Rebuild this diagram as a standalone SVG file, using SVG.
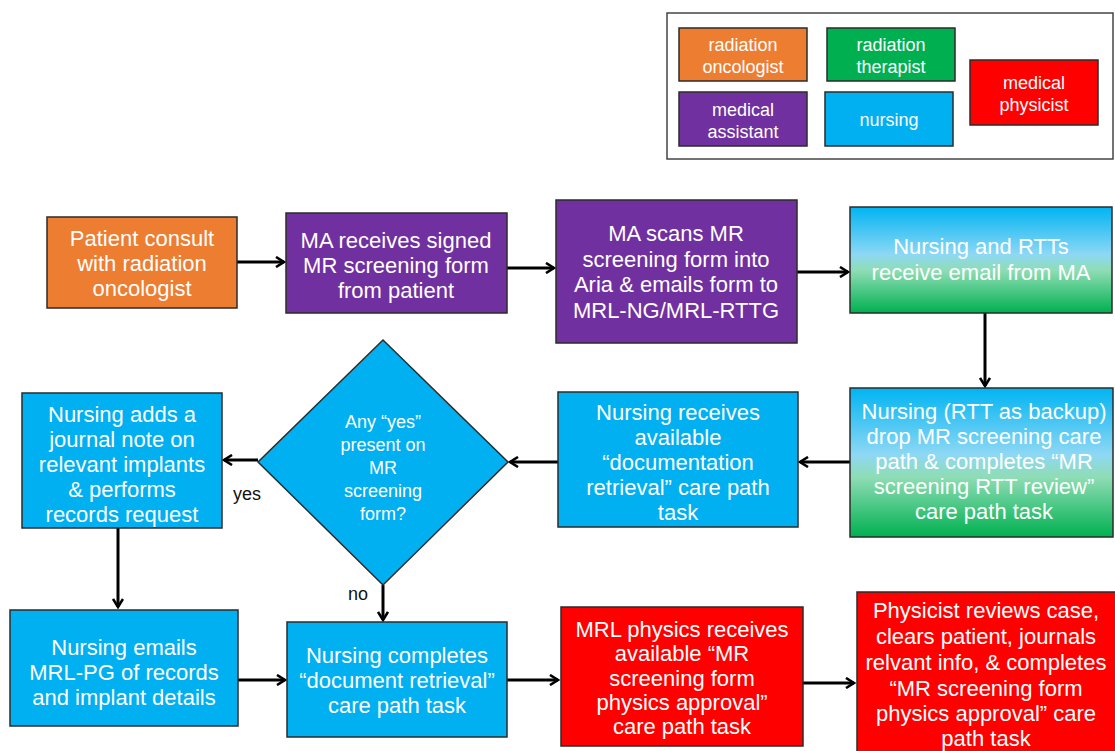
<svg xmlns="http://www.w3.org/2000/svg" width="1115" height="751" viewBox="0 0 1115 751">
<defs>
<style>
.box{stroke:#2b2b2b;stroke-width:1.5}
.t{font-family:"Liberation Sans",Arial,sans-serif;font-size:22px;fill:#fff;text-anchor:middle}
.lg{font-family:"Liberation Sans",Arial,sans-serif;font-size:18px;fill:#fff;text-anchor:middle}
.dt{font-family:"Liberation Sans",Arial,sans-serif;font-size:18px;fill:#fff;text-anchor:middle}
.lbl{font-family:"Liberation Sans",Arial,sans-serif;font-size:18px;fill:#111;text-anchor:middle}
.c{stroke:#000;stroke-width:3;fill:none}
.or{fill:#ED7D31}.pu{fill:#7030A0}.gr{fill:#00B050}.bl{fill:#00B0F0}.rd{fill:#FF0000}
</style>
<linearGradient id="bg" x1="0" y1="0" x2="0" y2="1">
<stop offset="0" stop-color="#00B4F2"/>
<stop offset="0.45" stop-color="#8ED8F4"/>
<stop offset="0.6" stop-color="#8EDDB4"/>
<stop offset="1" stop-color="#00B050"/>
</linearGradient>
<marker id="ah" viewBox="0 0 12 12" refX="10" refY="6" markerWidth="12" markerHeight="12" markerUnits="userSpaceOnUse" orient="auto">
<path d="M2,1 L10,6 L2,11" fill="none" stroke="#000" stroke-width="2.6"/>
</marker>
</defs>
<rect width="1115" height="751" fill="#fff"/>

<g id="legend">
<rect x="667" y="13" width="446" height="146" fill="#fff" stroke="#444" stroke-width="1.5"/>
<rect class="box or" x="679" y="28" width="128" height="53"/>
<text class="lg" x="743" y="51">radiation</text><text class="lg" x="743" y="73">oncologist</text>
<rect class="box gr" x="827" y="28" width="128" height="53"/>
<text class="lg" x="891" y="51">radiation</text><text class="lg" x="891" y="73">therapist</text>
<rect class="box pu" x="679" y="92" width="128" height="54"/>
<text class="lg" x="743" y="116">medical</text><text class="lg" x="743" y="138">assistant</text>
<rect class="box bl" x="825" y="92" width="128" height="54"/>
<text class="lg" x="889" y="126">nursing</text>
<rect class="box rd" x="970" y="60" width="128" height="65"/>
<text class="lg" x="1034" y="89">medical</text><text class="lg" x="1034" y="111">physicist</text>
</g>

<g id="connectors">
<line class="c" x1="237" y1="262" x2="284" y2="262" marker-end="url(#ah)"/>
<line class="c" x1="507" y1="268" x2="554" y2="268" marker-end="url(#ah)"/>
<line class="c" x1="797" y1="272" x2="848" y2="272" marker-end="url(#ah)"/>
<line class="c" x1="985" y1="313" x2="985" y2="386" marker-end="url(#ah)"/>
<line class="c" x1="850" y1="462" x2="800" y2="462" marker-end="url(#ah)"/>
<line class="c" x1="558" y1="462" x2="510" y2="462" marker-end="url(#ah)"/>
<line class="c" x1="258" y1="460" x2="224" y2="460" marker-end="url(#ah)"/>
<line class="c" x1="118" y1="528" x2="118" y2="607" marker-end="url(#ah)"/>
<line class="c" x1="383" y1="585" x2="383" y2="620" marker-end="url(#ah)"/>
<line class="c" x1="238" y1="680" x2="285" y2="680" marker-end="url(#ah)"/>
<line class="c" x1="507" y1="680" x2="558" y2="680" marker-end="url(#ah)"/>
<line class="c" x1="803" y1="683" x2="854" y2="683" marker-end="url(#ah)"/>
<text class="lbl" x="247" y="500">yes</text>
<text class="lbl" x="358" y="600">no</text>
</g>

<g id="n1">
<rect class="box or" x="47" y="217" width="190" height="91"/>
<text class="t" x="142" y="246">Patient consult</text>
<text class="t" x="142" y="271">with radiation</text>
<text class="t" x="142" y="296">oncologist</text>
</g>
<g id="n2">
<rect class="box pu" x="286" y="213" width="221" height="100"/>
<text class="t" x="396" y="248">MA receives signed</text>
<text class="t" x="396" y="273">MR screening form</text>
<text class="t" x="396" y="298">from patient</text>
</g>
<g id="n3">
<rect class="box pu" x="556" y="200" width="241" height="143"/>
<text class="t" x="676" y="241">MA scans MR</text>
<text class="t" x="676" y="267">screening form into</text>
<text class="t" x="676" y="292">Aria &amp; emails form to</text>
<text class="t" x="676" y="318">MRL-NG/MRL-RTTG</text>
</g>
<g id="n4">
<rect class="box" fill="url(#bg)" x="850" y="207" width="262" height="106"/>
<text class="t" x="981" y="254">Nursing and RTTs</text>
<text class="t" x="981" y="280">receive email from MA</text>
</g>
<g id="n5">
<rect class="box" fill="url(#bg)" x="850" y="388" width="263" height="149"/>
<text class="t" x="984" y="419">Nursing (RTT as backup)</text>
<text class="t" x="984" y="444">drop MR screening care</text>
<text class="t" x="984" y="469">path &amp; completes “MR</text>
<text class="t" x="984" y="494">screening RTT review”</text>
<text class="t" x="984" y="519">care path task</text>
</g>
<g id="n6">
<rect class="box bl" x="558" y="392" width="240" height="135"/>
<text class="t" x="678" y="420">Nursing receives</text>
<text class="t" x="678" y="445">available</text>
<text class="t" x="678" y="470">“documentation</text>
<text class="t" x="678" y="495">retrieval” care path</text>
<text class="t" x="678" y="520">task</text>
</g>
<g id="n7">
<polygon class="box bl" points="383,340 508,462 383,585 258,462"/>
<text class="dt" x="383" y="428">Any “yes”</text>
<text class="dt" x="383" y="451">present on</text>
<text class="dt" x="383" y="474">MR</text>
<text class="dt" x="383" y="497">screening</text>
<text class="dt" x="383" y="520">form?</text>
</g>
<g id="n8">
<rect class="box bl" x="22" y="393" width="200" height="135"/>
<text class="t" x="122" y="422">Nursing adds a</text>
<text class="t" x="122" y="447">journal note on</text>
<text class="t" x="122" y="472">relevant implants</text>
<text class="t" x="122" y="497">&amp; performs</text>
<text class="t" x="122" y="522">records request</text>
</g>
<g id="n9">
<rect class="box bl" x="10" y="610" width="228" height="116"/>
<text class="t" x="124" y="655">Nursing emails</text>
<text class="t" x="124" y="680">MRL-PG of records</text>
<text class="t" x="124" y="705">and implant details</text>
</g>
<g id="n10">
<rect class="box bl" x="287" y="622" width="220" height="115"/>
<text class="t" x="397" y="663">Nursing completes</text>
<text class="t" x="397" y="688">“document retrieval”</text>
<text class="t" x="397" y="713">care path task</text>
</g>
<g id="n11">
<rect class="box rd" x="561" y="607" width="242" height="139"/>
<text class="t" x="682" y="637">MRL physics receives</text>
<text class="t" x="682" y="661">available “MR</text>
<text class="t" x="682" y="686">screening form</text>
<text class="t" x="682" y="710">physics approval”</text>
<text class="t" x="682" y="734">care path task</text>
</g>
<g id="n12">
<rect class="box rd" x="857" y="592" width="262" height="165"/>
<text class="t" x="986" y="618">Physicist reviews case,</text>
<text class="t" x="986" y="644">clears patient, journals</text>
<text class="t" x="986" y="670">relvant info, &amp; completes</text>
<text class="t" x="986" y="696">“MR screening form</text>
<text class="t" x="986" y="721">physics approval” care</text>
<text class="t" x="986" y="746">path task</text>
</g>
</svg>
